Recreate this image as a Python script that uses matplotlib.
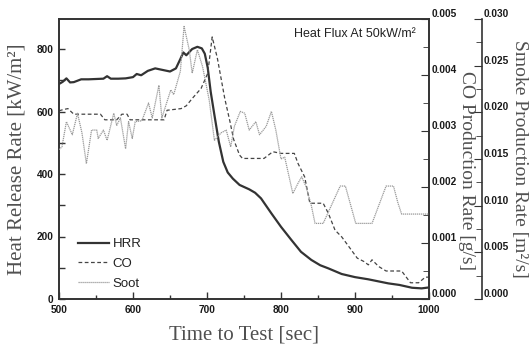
import matplotlib
matplotlib.use("Agg")
import matplotlib.pyplot as plt
from matplotlib.ticker import MultipleLocator, FormatStrFormatter
from matplotlib.font_manager import FontProperties

# ---- data ----
hrr_t = [500, 505, 510, 515, 520, 530, 540, 550, 560, 565, 570, 580, 590, 600, 605, 611,
         620, 630, 640, 650, 658, 664, 668, 672, 680, 687, 693, 697, 701, 705, 710, 716,
         722, 728, 735, 744, 757, 765, 773, 780, 787, 800, 814, 827, 841, 853, 864, 882,
         900, 918, 945, 960, 977, 990, 1000]
hrr_v = [688, 695, 706, 693, 694, 703, 703, 704, 705, 713, 705, 705, 706, 710, 720, 716,
         730, 738, 733, 728, 738, 768, 789, 780, 800, 807, 802, 785, 740, 663, 589, 503,
         439, 405, 385, 365, 351, 340, 322, 298, 274, 231, 189, 151, 125, 108, 98, 80,
         70, 63, 50, 45, 36, 34, 37]

co_t = [500, 505, 512, 520, 556, 562, 578, 585, 592, 596, 642, 646, 665, 672, 680, 692,
        701, 707, 714, 719, 724, 731, 736, 744, 748, 777, 789, 800, 818, 823, 832, 839,
        857, 864, 873, 882, 892, 903, 912, 918, 923, 932, 942, 963, 975, 986, 995, 1000]
co_v = [0.00336, 0.00338, 0.00340, 0.00330, 0.00330, 0.00320, 0.00320, 0.00330, 0.00330,
        0.00320, 0.00320, 0.00337, 0.00340, 0.00345, 0.00358, 0.00376, 0.00403, 0.00468,
        0.00430, 0.00394, 0.00358, 0.00317, 0.00285, 0.00257, 0.00251, 0.00251, 0.00263,
        0.00260, 0.00260, 0.00242, 0.00218, 0.00171, 0.00171, 0.00153, 0.00123, 0.00111,
        0.00093, 0.00073, 0.00067, 0.00061, 0.00070, 0.00058, 0.00050, 0.00050, 0.00029,
        0.00029, 0.00039, 0.00039]

soot_t = [500, 504, 510, 518, 525, 531, 537, 544, 551, 553, 560, 565, 574, 578, 583, 590,
          594, 599, 603, 612, 621, 626, 635, 639, 651, 655, 664, 669, 676, 680, 687, 694,
          703, 710, 719, 726, 732, 737, 745, 751, 757, 766, 771, 780, 787, 793, 800, 805,
          816, 823, 828, 834, 841, 846, 857, 880, 887, 901, 923, 942, 952, 958, 963, 1000]
soot_v = [0.0160, 0.0163, 0.0190, 0.0176, 0.0199, 0.0178, 0.0145, 0.0181, 0.0181, 0.0172,
          0.0181, 0.0170, 0.0199, 0.0186, 0.0194, 0.0161, 0.0190, 0.0172, 0.0190, 0.0191,
          0.0210, 0.0194, 0.0229, 0.0194, 0.0224, 0.0219, 0.0244, 0.0292, 0.0267, 0.0242,
          0.0267, 0.0249, 0.0213, 0.0170, 0.0178, 0.0181, 0.0163, 0.0185, 0.0201, 0.0199,
          0.0181, 0.0190, 0.0176, 0.0185, 0.0201, 0.0181, 0.0150, 0.0152, 0.0113, 0.0124,
          0.0131, 0.0120, 0.0100, 0.0081, 0.0081, 0.0121, 0.0121, 0.0081, 0.0081, 0.0121,
          0.0121, 0.0103, 0.0091, 0.0091]

x_label = "Time to Test [sec]"
y_label = "Heat Release Rate [kW/m²]"
co_label = "CO Production Rate [g/s]"
smoke_label = "Smoke Production Rate [m²/s]"
note = "Heat Flux At 50kW/m²"

# ---- figure ----
fig = plt.figure(figsize=(5.31, 3.47), dpi=100)
L, R, T, B = 59, 429, 19, 299
W, H = 531, 347
ax = fig.add_axes([L / W, 1 - B / H, (R - L) / W, (B - T) / H])
ax2 = ax.twinx()
ax3 = ax.twinx()

spine_c = "#333333"
tick_fp = FontProperties(family="Liberation Sans", weight="bold", size=7.3)
label_font = dict(family="Liberation Serif", size=15, color="#505050")
rlabel_font = dict(family="Liberation Serif", size=14, color="#505050")

l1, = ax.plot(hrr_t, hrr_v, color="#333333", lw=1.6, label="HRR")
l2, = ax2.plot(co_t, co_v, color="#444444", lw=0.9, ls=(0, (3, 2)), label="CO")
l3, = ax3.plot(soot_t, soot_v, color="#999999", lw=0.9, ls=(0, (1, 0.6)), label="Soot")

ax.set_xlim(500, 1000)
ax.set_ylim(0, 896)
ax2.set_ylim(0, 0.005)
ax3.set_ylim(0, 0.030)

ax.xaxis.set_major_locator(MultipleLocator(100))
ax.xaxis.set_minor_locator(MultipleLocator(50))
ax.yaxis.set_major_locator(MultipleLocator(200))
ax.yaxis.set_minor_locator(MultipleLocator(100))
ax2.yaxis.set_major_locator(MultipleLocator(0.001))
ax2.yaxis.set_minor_locator(MultipleLocator(0.0005))
ax2.yaxis.set_major_formatter(FormatStrFormatter("%.3f"))
ax3.yaxis.set_major_locator(MultipleLocator(0.005))
ax3.yaxis.set_minor_locator(MultipleLocator(0.0025))
ax3.yaxis.set_major_formatter(FormatStrFormatter("%.3f"))

for a in (ax, ax2, ax3):
    for s in a.spines.values():
        s.set_color(spine_c)
        s.set_linewidth(1.2)

ax3.spines["right"].set_position(("axes", (482 - L) / (R - L)))
ax3.spines["top"].set_visible(False)
ax3.spines["left"].set_visible(False)
ax3.spines["bottom"].set_visible(False)

ax.tick_params(axis="both", which="both", direction="in", color=spine_c, width=1)
ax.tick_params(axis="x", which="major", length=5, pad=4)
ax.tick_params(axis="x", which="minor", length=3)
ax.tick_params(axis="y", which="both", length=4, pad=4)
ax2.tick_params(axis="y", which="major", direction="in", length=6, pad=2, color=spine_c)
ax2.tick_params(axis="y", which="minor", direction="in", length=4, color=spine_c)
ax3.tick_params(axis="y", which="major", direction="in", length=6, pad=1, color=spine_c)
ax3.tick_params(axis="y", which="minor", direction="in", length=4, color=spine_c)

for a in (ax, ax2, ax3):
    for lab in a.get_xticklabels() + a.get_yticklabels():
        lab.set_fontproperties(tick_fp)
        lab.set_color("#1a1a1a")
for a in (ax2, ax3):
    for lab in a.get_yticklabels():
        lab.set_va("bottom")

ax.set_xlabel(x_label, va="center", **label_font)
ax.xaxis.set_label_coords(0.5, -0.13)
ax.set_ylabel(y_label, va="center", **label_font)
ax.yaxis.set_label_coords((17 - L) / (R - L), 0.5)
ax2.set_ylabel(co_label, rotation=270, va="center", **rlabel_font)
ax2.yaxis.set_label_coords((467 - L) / (R - L), 0.46)
ax3.set_ylabel(smoke_label, rotation=270, va="center", **rlabel_font)
ax3.yaxis.set_label_coords((520 - L) / (R - L), 0.5)

ax.text(0.963, 0.945, note, transform=ax.transAxes, ha="right", va="center",
        family="Liberation Sans", size=9, color="#222222")

leg = ax.legend(handles=[l1, l2, l3], loc="lower left", bbox_to_anchor=(0.02, -0.01),
                frameon=False, prop=dict(family="Liberation Sans", size=9.5),
                handlelength=2.3, handletextpad=0.3, labelspacing=0.58)
for t in leg.get_texts():
    t.set_color("#222222")

fig.savefig("out.png", dpi=100)
